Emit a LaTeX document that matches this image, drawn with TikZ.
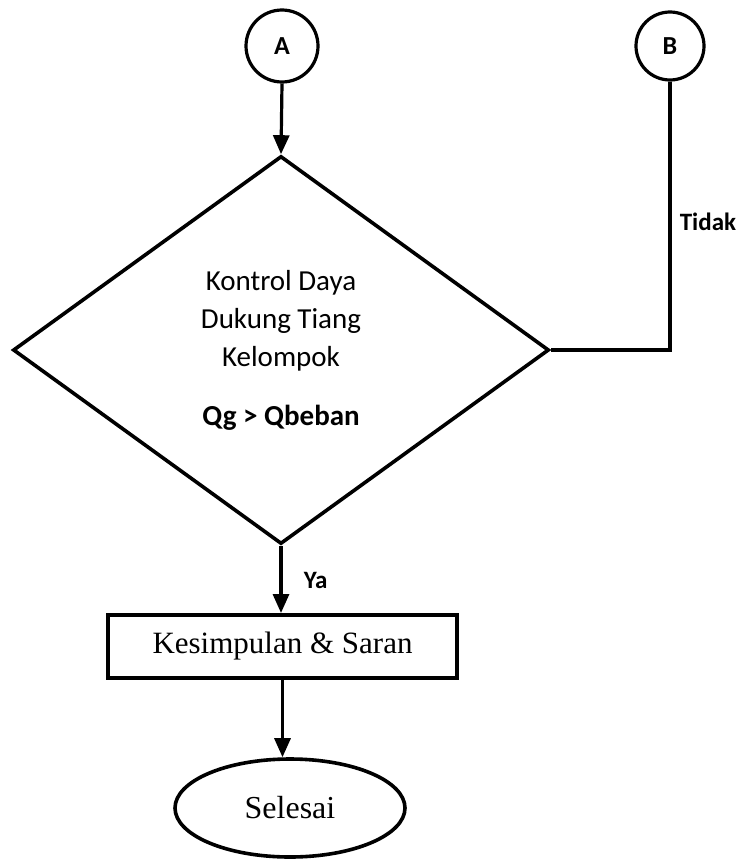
\documentclass[tikz,border=0pt]{standalone}
\usepackage{fontspec}
\setmainfont{Liberation Serif}
\newfontfamily\calib{Carlito}
\usetikzlibrary{shapes.geometric,arrows.meta}
\begin{document}
\begin{tikzpicture}[x=1pt,y=-1pt,
  line width=3.6pt,
  conn/.style={line width=3.2pt},
  arr/.style={conn,-{Triangle[length=19pt,width=16pt]}},
  connector/.style={circle,draw,line width=3.2pt,inner sep=0pt,font=\calib\bfseries\fontsize{26}{30}\selectfont},
  decision/.style={diamond,draw,line width=3.6pt,inner sep=0pt,aspect=1.3814,minimum width=536pt,minimum height=388pt,align=center,font=\calib\fontsize{29}{38}\selectfont},
  process/.style={rectangle,draw,line width=4pt,minimum width=349pt,minimum height=63pt,inner sep=0pt,font=\fontsize{31}{36}\selectfont},
  terminal/.style={ellipse,draw,line width=3.6pt,minimum width=230pt,minimum height=98pt,inner sep=0pt,font=\fontsize{32}{36}\selectfont},
  lbl/.style={font=\calib\bfseries\fontsize{25}{30}\selectfont,inner sep=0pt}]
\useasboundingbox (0,0) rectangle (750,859);
\node[connector,minimum size=72pt] (A) at (282,46) {A};
\node[connector,minimum size=68pt] (B) at (670,46) {B};
\node[decision] (D) at (281,350) {Kontrol Daya\\Dukung Tiang\\Kelompok\\[21pt]\textbf{Qg > Qbeban}};
\node[process] (K) at (282.5,646.5) {Kesimpulan \& Saran};
\node[terminal] (S) at (290,808) {Selesai};
\draw[arr] (A.south) -- (D.north);
\draw[conn] (B.south) -- (B.south |- D.east) -- (D.east);
\draw[arr] (D.south) -- (D.south |- K.north);
\draw[arr] (K.south) -- (K.south |- S.north);
\node[lbl,anchor=west] (tidak) at (678,222) {Tidak};
\node[lbl,anchor=west] (ya) at (302,580) {Ya};
\end{tikzpicture}
\end{document}
